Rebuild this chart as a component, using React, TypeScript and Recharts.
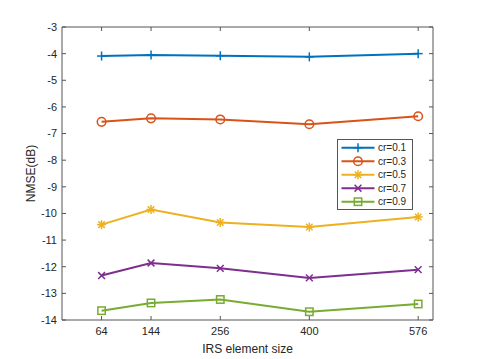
import React from 'react'
import { LineChart, Line, XAxis, YAxis, Legend } from 'recharts'

// IRS element sizes (x positions, numeric axis)
const SIZES = [64, 144, 256, 400, 576]
const Y_TICKS = [-14, -13, -12, -11, -10, -9, -8, -7, -6, -5, -4, -3]

// NMSE (dB) per compression ratio
const CR01 = [-4.09, -4.05, -4.08, -4.12, -4.0]
const CR03 = [-6.56, -6.43, -6.47, -6.65, -6.35]
const CR05 = [-10.42, -9.85, -10.34, -10.51, -10.13]
const CR07 = [-12.33, -11.86, -12.06, -12.42, -12.11]
const CR09 = [-13.65, -13.36, -13.23, -13.69, -13.4]

type Shape = 'plus' | 'circle' | 'star' | 'cross' | 'square'

const SERIES: { key: string; name: string; color: string; shape: Shape; values: number[] }[] = [
  { key: 'cr01', name: 'cr=0.1', color: '#0072BD', shape: 'plus', values: CR01 },
  { key: 'cr03', name: 'cr=0.3', color: '#D95319', shape: 'circle', values: CR03 },
  { key: 'cr05', name: 'cr=0.5', color: '#EDB120', shape: 'star', values: CR05 },
  { key: 'cr07', name: 'cr=0.7', color: '#7E2F8E', shape: 'cross', values: CR07 },
  { key: 'cr09', name: 'cr=0.9', color: '#77AC30', shape: 'square', values: CR09 },
]

const data = SIZES.map((size, i) => {
  const row: Record<string, number> = { size }
  SERIES.forEach((s) => {
    row[s.key] = s.values[i]
  })
  return row
})

const AXIS_COLOR = '#555555'
const TEXT_COLOR = '#262626'
const FONT = '"Liberation Sans", Arial, sans-serif'

function Marker({ shape, cx, cy, color }: { shape: Shape; cx: number; cy: number; color: string }) {
  const sw = 1.5
  if (shape === 'plus') {
    const r = 4.5
    return (
      <g stroke={color} strokeWidth={sw} fill="none">
        <line x1={cx - r} y1={cy} x2={cx + r} y2={cy} />
        <line x1={cx} y1={cy - r} x2={cx} y2={cy + r} />
      </g>
    )
  }
  if (shape === 'circle') {
    return <circle cx={cx} cy={cy} r={4.3} stroke={color} strokeWidth={sw} fill="none" />
  }
  if (shape === 'star') {
    const r = 4.5
    const d = r * 0.72
    return (
      <g stroke={color} strokeWidth={sw} fill="none">
        <line x1={cx - r} y1={cy} x2={cx + r} y2={cy} />
        <line x1={cx} y1={cy - r} x2={cx} y2={cy + r} />
        <line x1={cx - d} y1={cy - d} x2={cx + d} y2={cy + d} />
        <line x1={cx - d} y1={cy + d} x2={cx + d} y2={cy - d} />
      </g>
    )
  }
  if (shape === 'cross') {
    const d = 3.4
    return (
      <g stroke={color} strokeWidth={sw} fill="none">
        <line x1={cx - d} y1={cy - d} x2={cx + d} y2={cy + d} />
        <line x1={cx - d} y1={cy + d} x2={cx + d} y2={cy - d} />
      </g>
    )
  }
  return <rect x={cx - 3.7} y={cy - 3.7} width={7.4} height={7.4} stroke={color} strokeWidth={sw} fill="none" />
}

const LegendBox = () => (
  <svg width={76} height={72} style={{ display: 'block' }}>
    <rect x={0.5} y={0.5} width={75} height={70} fill="#fff" stroke={AXIS_COLOR} strokeWidth={1} />
    {SERIES.map((s, i) => {
      const y = 8.7 + i * 13.5
      return (
        <g key={s.key}>
          <line x1={4.5} y1={y} x2={37.5} y2={y} stroke={s.color} strokeWidth={2} />
          <Marker shape={s.shape} cx={21} cy={y} color={s.color} />
          <text x={41} y={y + 3.5} fontSize={10} fontFamily={FONT} fill={TEXT_COLOR}>
            {s.name}
          </text>
        </g>
      )
    })}
  </svg>
)

const blank = () => ''

export default function App() {
  return (
    <div style={{ position: 'absolute', left: 0, top: 0, width: 478, height: 359, background: '#fff' }}>
      <LineChart
        width={478}
        height={359}
        data={data}
        margin={{ top: 26, right: 44, bottom: 0, left: 0 }}
        style={{ fontFamily: FONT }}
      >
        {/* bottom x axis, ticks pointing inward */}
        <XAxis
          xAxisId="b"
          dataKey="size"
          type="number"
          domain={[0, 600]}
          ticks={SIZES}
          allowDataOverflow
          height={39}
          tickSize={-4}
          tickMargin={11}
          axisLine={{ stroke: AXIS_COLOR }}
          tickLine={{ stroke: AXIS_COLOR }}
          tick={{ fontSize: 11, fill: TEXT_COLOR, fontFamily: FONT }}
          label={{
            value: 'IRS element size',
            position: 'insideBottom',
            offset: 6,
            fontSize: 12,
            fill: TEXT_COLOR,
            fontFamily: FONT,
          }}
        />
        {/* top x axis: box edge + ticks only */}
        <XAxis
          xAxisId="t"
          orientation="top"
          dataKey="size"
          type="number"
          domain={[0, 600]}
          ticks={SIZES}
          allowDataOverflow
          height={1}
          tickSize={-4}
          tickFormatter={blank}
          axisLine={{ stroke: AXIS_COLOR }}
          tickLine={{ stroke: AXIS_COLOR }}
        />
        <YAxis
          yAxisId="l"
          type="number"
          domain={[-14, -3]}
          ticks={Y_TICKS}
          allowDataOverflow
          width={62}
          tickSize={-4}
          tickMargin={9}
          axisLine={{ stroke: AXIS_COLOR }}
          tickLine={{ stroke: AXIS_COLOR }}
          tick={{ fontSize: 11, fill: TEXT_COLOR, fontFamily: FONT }}
          label={{
            value: 'NMSE(dB)',
            angle: -90,
            position: 'insideLeft',
            offset: 31,
            fontSize: 12,
            fill: TEXT_COLOR,
            fontFamily: FONT,
            style: { textAnchor: 'middle' },
          }}
        />
        {/* right y axis: box edge + ticks only */}
        <YAxis
          yAxisId="r"
          orientation="right"
          type="number"
          domain={[-14, -3]}
          ticks={Y_TICKS}
          allowDataOverflow
          width={1}
          tickSize={-4}
          tickFormatter={blank}
          axisLine={{ stroke: AXIS_COLOR }}
          tickLine={{ stroke: AXIS_COLOR }}
        />
        <Legend
          layout="horizontal"
          verticalAlign="middle"
          align="center"
          content={LegendBox}
          wrapperStyle={{ position: 'absolute', left: 337, top: 139, width: 76, height: 72 }}
        />
        {SERIES.map((s) => (
          <Line
            key={s.key}
            xAxisId="b"
            yAxisId="l"
            dataKey={s.key}
            name={s.name}
            stroke={s.color}
            strokeWidth={2}
            dot={(p: any) => <Marker key={`${s.key}-${p.index}`} shape={s.shape} cx={p.cx} cy={p.cy} color={s.color} />}
            activeDot={false}
            isAnimationActive={false}
          />
        ))}
      </LineChart>
    </div>
  )
}
